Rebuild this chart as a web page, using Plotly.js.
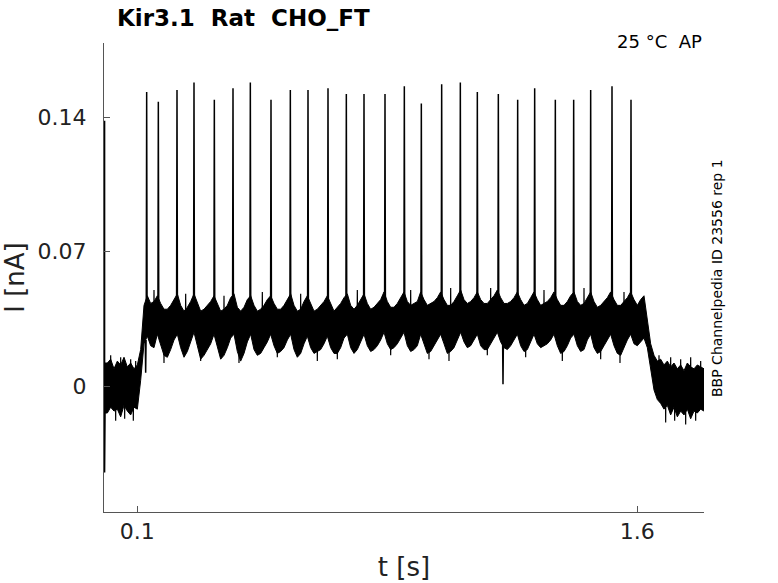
<!DOCTYPE html>
<html>
<head>
<meta charset="utf-8">
<script src="https://cdn.plot.ly/plotly-3.0.1.min.js"></script>
<style>
	html, body { margin: 0; padding: 0; background: #fff; }
	#plot { width: 778px; height: 583px; }
</style>
</head>
<body>
<div id="plot"></div>
<script>
// current band, one upper/lower pair every 10 ms from 0 to 1.8 s
const sampleStep = 0.01;
const bandUpper = [
	0.012, 0.012, 0.014, 0.009, 0.013, 0.011, 0.015, 0.010, 0.012, 0.009,
	0.011, 0.019, 0.042, 0.047, 0.043, 0.044, 0.047, 0.043, 0.040, 0.040,
	0.042, 0.045, 0.048, 0.042, 0.039, 0.041, 0.044, 0.048, 0.043, 0.039,
	0.040, 0.042, 0.044, 0.047, 0.043, 0.039, 0.040, 0.042, 0.046, 0.048,
	0.041, 0.039, 0.041, 0.045, 0.047, 0.042, 0.039, 0.040, 0.042, 0.045,
	0.047, 0.043, 0.040, 0.040, 0.042, 0.045, 0.048, 0.042, 0.039, 0.040,
	0.044, 0.047, 0.043, 0.039, 0.040, 0.042, 0.044, 0.047, 0.043, 0.039,
	0.041, 0.043, 0.046, 0.048, 0.042, 0.040, 0.042, 0.045, 0.048, 0.043,
	0.040, 0.041, 0.043, 0.045, 0.049, 0.044, 0.041, 0.041, 0.043, 0.046,
	0.049, 0.044, 0.042, 0.043, 0.044, 0.049, 0.045, 0.042, 0.043, 0.044,
	0.046, 0.049, 0.045, 0.042, 0.042, 0.044, 0.047, 0.050, 0.045, 0.043,
	0.044, 0.046, 0.049, 0.045, 0.043, 0.043, 0.045, 0.047, 0.050, 0.046,
	0.043, 0.043, 0.044, 0.046, 0.049, 0.045, 0.042, 0.043, 0.046, 0.049,
	0.045, 0.042, 0.043, 0.044, 0.046, 0.049, 0.045, 0.042, 0.042, 0.044,
	0.047, 0.049, 0.044, 0.042, 0.043, 0.046, 0.049, 0.044, 0.041, 0.042,
	0.044, 0.046, 0.049, 0.045, 0.042, 0.042, 0.044, 0.046, 0.049, 0.045,
	0.042, 0.045, 0.047, 0.035, 0.022, 0.016, 0.013, 0.014, 0.011, 0.013,
	0.010, 0.012, 0.009, 0.011, 0.008, 0.012, 0.010, 0.009, 0.011, 0.010,
	0.009
];
const bandLower = [
	-0.014, -0.014, -0.011, -0.013, -0.012, -0.016, -0.010, -0.013, -0.015, -0.011,
	-0.012, 0.003, 0.022, 0.026, 0.021, 0.020, 0.027, 0.022, 0.016, 0.015,
	0.019, 0.024, 0.027, 0.020, 0.015, 0.018, 0.023, 0.028, 0.021, 0.014,
	0.016, 0.019, 0.022, 0.027, 0.020, 0.014, 0.016, 0.020, 0.025, 0.027,
	0.018, 0.013, 0.017, 0.023, 0.027, 0.019, 0.016, 0.017, 0.020, 0.023,
	0.027, 0.021, 0.017, 0.018, 0.020, 0.024, 0.027, 0.019, 0.015, 0.017,
	0.022, 0.026, 0.020, 0.017, 0.018, 0.019, 0.022, 0.026, 0.020, 0.017,
	0.017, 0.020, 0.025, 0.027, 0.020, 0.017, 0.019, 0.023, 0.027, 0.021,
	0.018, 0.019, 0.021, 0.024, 0.028, 0.022, 0.019, 0.020, 0.022, 0.025,
	0.028, 0.021, 0.018, 0.019, 0.021, 0.027, 0.022, 0.017, 0.018, 0.021,
	0.024, 0.027, 0.022, 0.017, 0.018, 0.020, 0.024, 0.028, 0.023, 0.020,
	0.021, 0.024, 0.027, 0.021, 0.019, 0.019, 0.022, 0.025, 0.028, 0.023,
	0.020, 0.019, 0.021, 0.024, 0.027, 0.021, 0.018, 0.019, 0.023, 0.027,
	0.022, 0.020, 0.021, 0.022, 0.024, 0.027, 0.021, 0.017, 0.018, 0.021,
	0.025, 0.027, 0.021, 0.018, 0.019, 0.024, 0.027, 0.020, 0.017, 0.018,
	0.021, 0.024, 0.027, 0.021, 0.017, 0.016, 0.020, 0.024, 0.027, 0.022,
	0.021, 0.023, 0.025, 0.020, 0.009, -0.002, -0.007, -0.009, -0.012, -0.010,
	-0.015, -0.011, -0.016, -0.013, -0.015, -0.012, -0.017, -0.013, -0.014, -0.012,
	-0.013
];

// action potential clamp spikes: time [s] and peak current [nA]
const spikeTimes = [
	0.128, 0.163, 0.219, 0.270, 0.331, 0.387, 0.439, 0.501, 0.559, 0.612,
	0.672, 0.727, 0.780, 0.843, 0.901, 0.952, 1.013, 1.069, 1.120, 1.183,
	1.241, 1.292, 1.354, 1.409, 1.460, 1.524, 1.581
];
const spikePeaks = [
	0.153, 0.148, 0.154, 0.158, 0.149, 0.155, 0.158, 0.149, 0.154, 0.154,
	0.155, 0.152, 0.152, 0.152, 0.156, 0.147, 0.157, 0.158, 0.153, 0.152,
	0.149, 0.155, 0.149, 0.149, 0.154, 0.156, 0.149
];

// short downward glitches
const dipTimes = [0.125, 1.197];
const dipMins = [0.007, 0.001];

// single noise excursions sticking out of the band
const noiseTimes = [
	0.020, 0.035, 0.050, 0.062, 0.080, 0.088, 0.095,
	0.150, 0.180, 0.245, 0.290, 0.360, 0.405, 0.475, 0.520, 0.590, 0.640,
	0.700, 0.760, 0.860, 0.920, 0.975, 1.035, 1.040, 1.150, 1.160, 1.265,
	1.320, 1.375, 1.440, 1.490, 1.548, 1.560,
	1.665, 1.685, 1.700, 1.712, 1.730, 1.745, 1.760, 1.775, 1.790
];
const noiseTips = [
	0.016, -0.018, 0.015, -0.017, 0.014, -0.018, 0.013,
	0.050, 0.012, 0.048, 0.013, 0.047, 0.012, 0.049, 0.015, 0.048, 0.013,
	0.014, 0.050, 0.016, 0.050, 0.014, 0.013, 0.051, 0.016, 0.051, 0.015,
	0.050, 0.013, 0.051, 0.014, 0.012, 0.049,
	0.016, -0.019, 0.015, -0.018, 0.014, -0.020, 0.015, -0.018, 0.013
];

// capacitive transient at the very start
const transientTimes = [0.001, 0.001, 0.003];
const transientValues = [0.138, -0.045, 0.0];

document.addEventListener('DOMContentLoaded', function() {

	const t = bandUpper.map(function(v, i) { return +(i * sampleStep).toFixed(3); });

	function bandMid(tt) {
		const i = Math.min(bandUpper.length - 1, Math.round(tt / sampleStep));
		return (bandUpper[i] + bandLower[i]) / 2;
	}

	// vertical strokes: base -> tip -> base, with a gap after each
	function strokes(times, tips, base, half) {
		const xs = [], ys = [];
		times.forEach(function(tt, i) {
			const b = base === null ? bandMid(tt) : base;
			xs.push(tt - half, tt, tt + half, null);
			ys.push(b, tips[i], b, null);
		});
		return {x: xs, y: ys};
	}

	const sp = strokes(spikeTimes, spikePeaks, 0.044, 0.0012);
	const dp = strokes(dipTimes, dipMins, 0.024, 0.0012);
	const np = strokes(noiseTimes, noiseTips, null, 0.0008);

	const lineStyle = {color: '#000000', width: 1.5};

	const data = [
		{x: t, y: bandLower, type: 'scatter', mode: 'lines', line: {color: '#000000', width: 1}, hoverinfo: 'skip'},
		{x: t, y: bandUpper, type: 'scatter', mode: 'lines', fill: 'tonexty', fillcolor: '#000000',
			line: {color: '#000000', width: 1}, hoverinfo: 'skip'},
		{x: np.x, y: np.y, type: 'scatter', mode: 'lines', line: {color: '#000000', width: 1.2}, connectgaps: false},
		{x: sp.x, y: sp.y, type: 'scatter', mode: 'lines', line: lineStyle, connectgaps: false},
		{x: dp.x, y: dp.y, type: 'scatter', mode: 'lines', line: lineStyle, connectgaps: false},
		{x: transientTimes, y: transientValues, type: 'scatter', mode: 'lines', line: {color: '#000000', width: 2}}
	];

	const tickFont = {family: 'DejaVu Sans, sans-serif', size: 22, color: '#222222'};
	const titleFont = {family: 'DejaVu Sans, sans-serif', size: 26, color: '#222222'};

	const layout = {
		width: 778,
		height: 583,
		margin: {l: 104, r: 74, t: 43, b: 71, pad: 0},
		paper_bgcolor: '#ffffff',
		plot_bgcolor: '#ffffff',
		showlegend: false,
		xaxis: {
			range: [0, 1.8],
			tickvals: [0.1, 1.6],
			ticktext: ['0.1', '1.6'],
			ticks: 'inside',
			ticklen: 6,
			tickcolor: '#555555',
			showline: true,
			linecolor: '#555555',
			linewidth: 1,
			showgrid: false,
			zeroline: false,
			tickfont: tickFont,
			title: {text: 't [s]', font: titleFont, standoff: 14}
		},
		yaxis: {
			range: [-0.0655, 0.1785],
			tickvals: [0, 0.07, 0.14],
			ticktext: ['0', '0.07', '0.14'],
			ticks: 'inside',
			ticklen: 6,
			tickcolor: '#555555',
			showline: true,
			linecolor: '#555555',
			linewidth: 1,
			showgrid: false,
			zeroline: false,
			tickfont: tickFont,
			ticklabelstandoff: 12,
			title: {text: 'I [nA]', font: titleFont, standoff: 12}
		},
		annotations: [
			{
				text: '<b>Kir3.1  Rat  CHO_FT</b>',
				xref: 'paper', yref: 'paper', x: 0.019, y: 1.053,
				xanchor: 'left', yanchor: 'middle', showarrow: false,
				font: {family: 'DejaVu Sans, sans-serif', size: 23, color: '#000000'}
			},
			{
				text: '25 °C  AP',
				xref: 'paper', yref: 'paper', x: 1.0, y: 1.004,
				xanchor: 'right', yanchor: 'middle', showarrow: false,
				font: {family: 'DejaVu Sans, sans-serif', size: 18, color: '#000000'}
			},
			{
				text: 'BBP Channelpedia ID 23556 rep 1',
				xref: 'paper', yref: 'paper', x: 1.0217, y: 0.499,
				xanchor: 'center', yanchor: 'middle', textangle: -90, showarrow: false,
				font: {family: 'DejaVu Sans, sans-serif', size: 14, color: '#000000'}
			}
		]
	};

	const config = {staticPlot: true, displayModeBar: false};
	Plotly.newPlot('plot', data, layout, config);
});
</script>
</body>
</html>
